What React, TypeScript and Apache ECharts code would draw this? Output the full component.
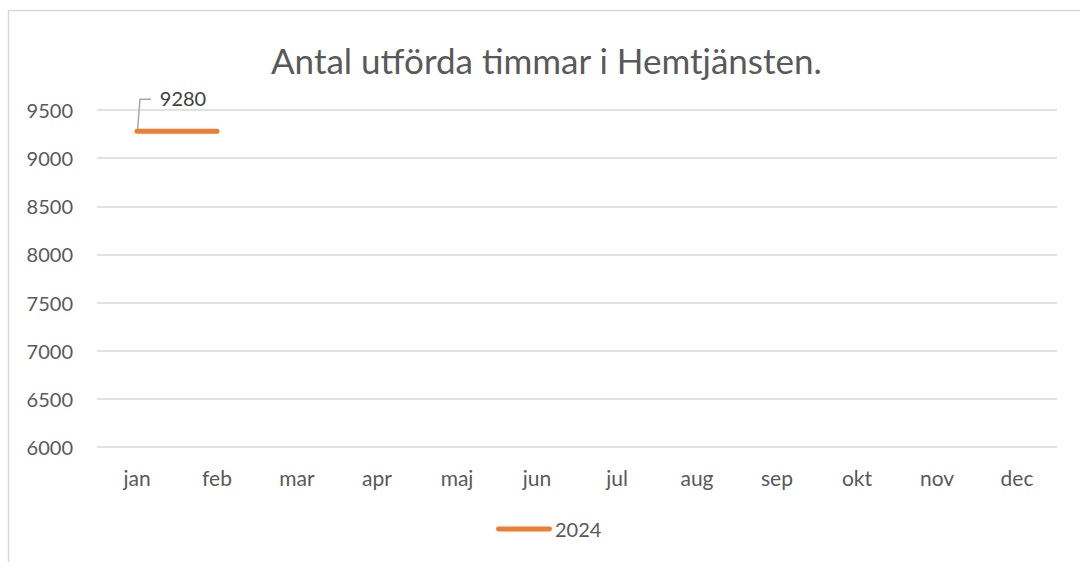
import React, { useEffect, useRef } from "react";
import * as echarts from "echarts";

const title = "Antal utförda timmar i Hemtjänsten.";
const months = ["jan", "feb", "mar", "apr", "maj", "jun", "jul", "aug", "sep", "okt", "nov", "dec"];
const seriesName = "2024";
const values2024: (number | null)[] = [9280, 9280, null, null, null, null, null, null, null, null, null, null];
const labelledIndex = 0;
const yMin = 6000;
const yMax = 9500;
const yStep = 500;

export default function App() {
  const ref = useRef<HTMLDivElement>(null);
  useEffect(() => {
    document.body.style.margin = "0";
    const chart = echarts.init(ref.current!, null, { renderer: "svg" });
    const font = "Lato, 'Open Sans', sans-serif";
    const grey = "#595959";
    chart.setOption({
      animation: false,
      backgroundColor: "#ffffff",
      textStyle: { fontFamily: font },
      title: {
        text: title,
        left: 266,
        top: 37,
        textStyle: { fontFamily: font, fontSize: 35, fontWeight: "normal", color: grey },
      },
      grid: { left: 97, right: 23, top: 110, bottom: 115 },
      legend: {
        bottom: 18,
        left: 491,
        itemWidth: 56,
        itemHeight: 5,
        itemGap: 4,
        textStyle: { fontFamily: font, fontSize: 20, color: grey, padding: [0, 0, 0, -2] },
        data: [{ name: seriesName, icon: "path://M2,0 L54,0 A2,2 0 0 1 54,5 L2,5 A2,2 0 0 1 2,0 Z" }],
      },
      xAxis: {
        type: "category",
        data: months,
        boundaryGap: true,
        axisLine: { show: false },
        axisTick: { show: false },
        axisLabel: { fontFamily: font, fontSize: 21, color: grey, margin: 20 },
      },
      yAxis: {
        type: "value",
        min: yMin,
        max: yMax,
        interval: yStep,
        axisLine: { show: false },
        axisTick: { show: false },
        axisLabel: { fontFamily: font, fontSize: 20, color: grey, margin: 24, formatter: (v: number) => String(v) },
        splitLine: { lineStyle: { color: "#d9d9d9", width: 1.5 } },
      },
      series: [
        {
          name: seriesName,
          type: "line",
          data: values2024.map((v, i) =>
            i === labelledIndex ? { value: v, label: { show: true } } : v
          ),
          showSymbol: true,
          symbol: "circle",
          symbolSize: 0.01,
          lineStyle: { color: "#ED7D31", width: 5, cap: "round" },
          itemStyle: { color: "#ED7D31" },
          label: {
            show: false,
            position: "top",
            fontFamily: font,
            fontSize: 20,
            color: "#404040",
          },
          labelLayout: { dx: 46, dy: -18 },
        },
      ],
    });
    const p = chart.convertToPixel({ seriesIndex: 0 }, [labelledIndex, values2024[labelledIndex] as number]) as number[];
    chart.setOption({
      graphic: [
        {
          type: "rect",
          shape: { x: 8.5, y: 10.5, width: 1200, height: 700 },
          style: { fill: "none", stroke: "#d9d9d9", lineWidth: 1.5 },
          silent: true,
        },
        {
          type: "polyline",
          shape: { points: [[p[0] + 0.5, p[1] - 1], [p[0] + 3, p[1] - 32], [p[0] + 14, p[1] - 32]] },
          style: { fill: "none", stroke: "#a6a6a6", lineWidth: 1.5 },
          silent: true,
        },
      ],
    });
    return () => chart.dispose();
  }, []);
  return <div ref={ref} style={{ position: "absolute", left: 0, top: 0, width: 1080, height: 562 }} />;
}
